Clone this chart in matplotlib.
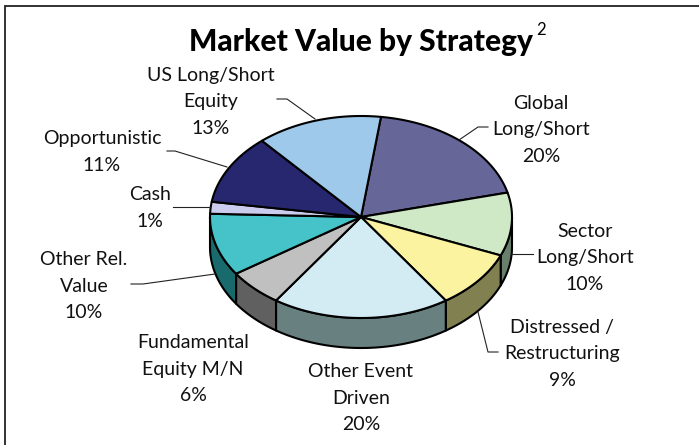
import numpy as np
import matplotlib
matplotlib.use('Agg')
import matplotlib.pyplot as plt
from matplotlib.patches import Polygon, Rectangle

strategies = ['Global\nLong/Short', 'Sector\nLong/Short', 'Distressed /\nRestructuring', 'Other Event\nDriven',
              'Fundamental\nEquity M/N', 'Other Rel.\nValue', 'Cash', 'Opportunistic', 'US Long/Short\nEquity']
# printed labels
label_pct = [20, 10, 9, 20, 6, 10, 1, 11, 13]
# slice sizes as they look in the tilted pie
slice_pct = [19, 10.1, 9.3, 19, 6, 10, 1.9, 11.2, 13.5]
top_colors = ['#666699', '#CFE8C6', '#FBF3A0', '#D3ECF4', '#C0C0C0', '#45C3C8', '#CCCCEE', '#26276F', '#9FC9EA']
side_colors = ['#33334D', '#687F6C', '#808050', '#688080', '#606060', '#186A6C', '#666677', '#131338', '#506478']

plt.rcParams['font.family'] = ['Lato', 'DejaVu Sans']

W, H = 699, 445
fig = plt.figure(figsize=(W / 100, H / 100), dpi=100)
ax = fig.add_axes([0, 0, 1, 1])
ax.set_xlim(0, W)
ax.set_ylim(H, 0)
ax.axis('off')

# only the left and top of the frame are inside the image
ax.add_patch(Rectangle((5, 6), 800, 600, fc='white', ec='#222222', lw=1.3))

cx, cy, rx, ry, depth = 361, 217, 151, 101, 30
start = 7.6


def rim(a0, a1):
    t = np.radians(np.linspace(a0, a1, 80))
    return cx + rx * np.sin(t), cy - ry * np.cos(t)


edges = start + np.cumsum([0] + slice_pct) * 3.6

# side walls first, only the front half of the rim shows
for i in range(len(slice_pct)):
    a0, a1 = max(edges[i], 90), min(edges[i + 1], 270)
    if a1 <= a0:
        continue
    x, y = rim(a0, a1)
    pts = np.r_[np.c_[x, y], np.c_[x[::-1], y[::-1] + depth]]
    ax.add_patch(Polygon(pts, fc=side_colors[i], ec='black', lw=1.5, joinstyle='round'))

for i in range(len(slice_pct)):
    x, y = rim(edges[i], edges[i + 1])
    pts = np.r_[[[cx, cy]], np.c_[x, y]]
    ax.add_patch(Polygon(pts, fc=top_colors[i], ec='black', lw=1.5, joinstyle='round'))

# leader lines
leaders = [([488, 478, 459], [127, 127, 140]),
           ([533, 511], [254, 254]),
           ([498, 488, 478], [352, 352, 312]),
           ([131, 143, 215], [284, 284, 274]),
           ([173, 210], [207, 207]),
           ([167, 175, 227], [151, 151, 167]),
           ([277, 287, 315], [99, 99, 119])]
for lx, ly in leaders:
    ax.plot(lx, ly, color='#222222', lw=0.8)

label_pos = [(541, 130), (585, 258), (562, 354), (361, 398), (193, 369), (84, 286), (150, 208), (102, 152), (211, 102)]
for name, pct, (x, y) in zip(strategies, label_pct, label_pos):
    ax.text(x, y, f'{name}\n{pct}%', ha='center', va='center', fontsize=14, linespacing=1.7, color='#111111')

ax.text(361, 42, 'Market Value by Strategy', ha='center', va='center', fontsize=21.5, fontweight='black', color='black')
ax.text(541, 30, '2', ha='center', va='center', fontsize=12, color='black')

fig.savefig('out.png', dpi=100)
